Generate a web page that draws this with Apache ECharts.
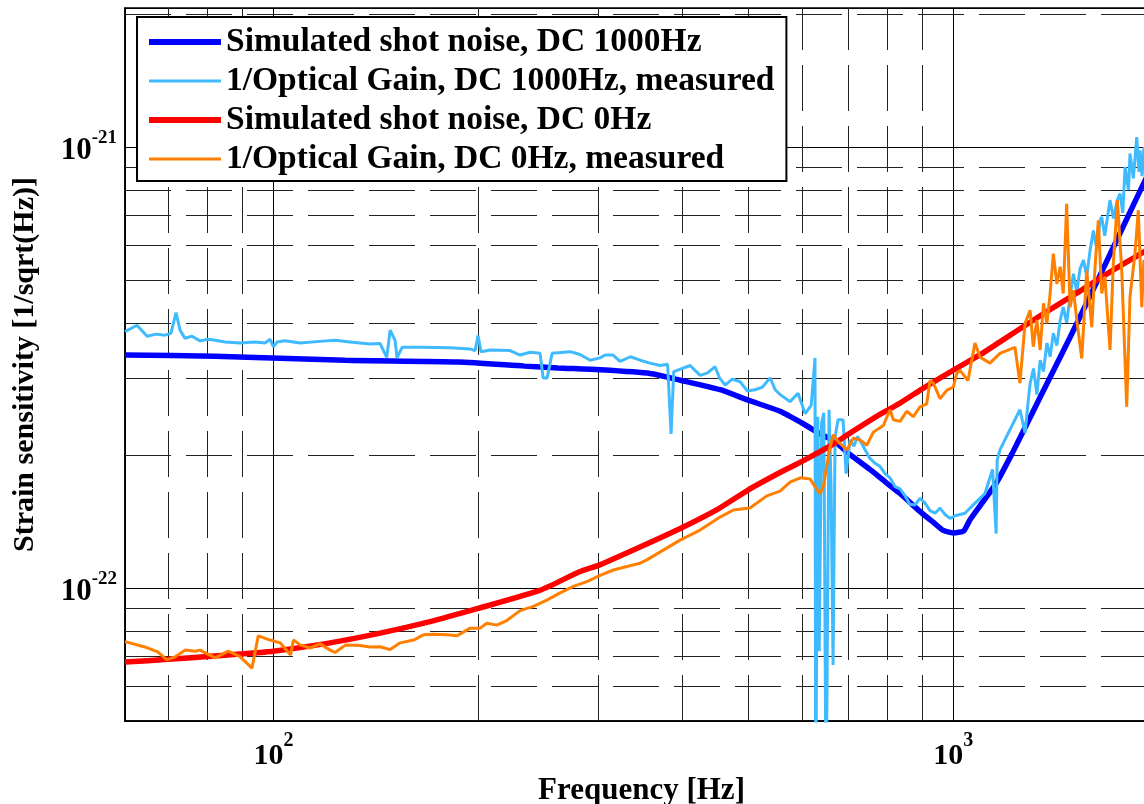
<!DOCTYPE html>
<html><head><meta charset="utf-8">
<script src="https://cdn.jsdelivr.net/npm/echarts@6/dist/echarts.min.js"></script>
<style>html,body{margin:0;padding:0;background:#fff}#c{width:1144px;height:804px}</style>
</head><body><div id="c"></div>
<script>
// strain values are stored in units of 1e-22 1/sqrt(Hz); frequencies in Hz
const UNIT_EXP = -22;

const xMinorGrid = [70, 80, 90, 200, 300, 400, 500, 600, 700, 800, 900, 2000];
const yMinorGrid = [0.6, 0.7, 0.8, 0.9, 2, 3, 4, 5, 6, 7, 8, 9, 20];

const seriesNames = [
  'Simulated shot noise, DC 1000Hz',
  '1/Optical Gain, DC 1000Hz, measured',
  'Simulated shot noise, DC 0Hz',
  '1/Optical Gain, DC 0Hz, measured'
];

// Simulated shot noise, DC 1000Hz
const fSim1000 = [60.5, 82, 127.5, 187, 234, 262, 302, 358, 398, 454, 499, 556, 599, 637, 670, 702, 754, 799, 835, 899, 935, 965, 1000, 1036, 1058, 1095, 1156, 1220, 1297, 1388, 1485, 1644, 1830, 2000];
const vSim1000 = [3.38, 3.36, 3.29, 3.26, 3.19, 3.16, 3.13, 3.07, 2.96, 2.82, 2.67, 2.52, 2.37, 2.24, 2.15, 2.02, 1.86, 1.73, 1.64, 1.48, 1.41, 1.355, 1.335, 1.35, 1.43, 1.54, 1.73, 2.02, 2.44, 3.01, 3.71, 5.13, 7.27, 9.69];

// 1/Optical Gain, DC 1000Hz, measured
const fMeas1000 = [60.5, 63.0, 65.2, 67.2, 69.3, 70.7, 71.9, 72.9, 74.1, 75.9,
  78.0, 80.2, 82.1, 84.9, 89.3, 94.0, 97.2, 98.9, 100, 101.3,
  104, 109.5, 117.1, 123.2, 129.7, 138.7, 143.5, 146.8, 148.5, 149.5,
  151, 152, 154.6, 164.4, 181.9, 194.7, 198, 200, 202, 208.3,
  222.9, 230.6, 238.5, 246.7, 249.3, 252.7, 257, 273.2, 282.5, 292.3,
  302.3, 307.6, 315.9, 323.5, 335, 346.2, 358, 370.5, 380, 384.5,
  388, 389.7, 410.1, 417, 424.2, 435, 446.3, 453, 461.7, 473,
  485.8, 498, 511.1, 524, 537.7, 547, 556.1, 575.3, 591.1, 605.3,
  618, 626, 627.5, 632, 635, 640, 645, 649.9, 656.5, 661,
  665.5, 670, 676.8, 688.4, 695.5, 704.9, 714, 723.4, 732, 741.6,
  754, 767.2, 780, 793.6, 807, 821, 835, 849.2, 863, 878.5,
  893, 908.7, 924, 940, 956, 972.3, 989, 1005.8, 1040, 1076,
  1113, 1142, 1156, 1160, 1171, 1210, 1253, 1275, 1290, 1297,
  1312, 1327, 1342, 1357, 1373, 1388, 1403, 1420, 1436, 1451,
  1468, 1485, 1502, 1519, 1536, 1554, 1571, 1589, 1607, 1625,
  1644, 1653, 1670, 1700, 1720, 1743, 1759, 1775, 1789, 1810,
  1819, 1840, 1861, 1875, 1882, 1895, 1907, 1950, 2000];
const vMeas1000 = [3.82, 3.95, 3.73, 3.77, 3.75, 3.79, 4.22, 3.85, 3.69, 3.73,
  3.64, 3.67, 3.65, 3.62, 3.60, 3.62, 3.60, 3.67, 3.53, 3.62,
  3.64, 3.60, 3.63, 3.65, 3.62, 3.58, 3.59, 3.34, 3.85, 3.89,
  3.65, 3.33, 3.52, 3.52, 3.51, 3.49, 3.46, 3.74, 3.44, 3.47,
  3.46, 3.38, 3.43, 3.41, 3.00, 3.00, 3.41, 3.44, 3.39, 3.29,
  3.33, 3.38, 3.38, 3.27, 3.35, 3.29, 3.24, 3.20, 3.22, 2.24,
  3.10, 3.12, 3.20, 3.12, 3.04, 3.08, 3.18, 3.00, 2.89, 2.98,
  2.94, 2.80, 2.82, 2.86, 3.00, 2.82, 2.75, 2.65, 2.77, 2.49,
  2.60, 3.33, 0.3, 2.45, 0.72, 2.37, 2.50, 0.3, 2.54, 1.70,
  0.67, 2.20, 2.41, 2.41, 1.82, 2.17, 2.10, 2.21, 2.14, 2.06,
  1.97, 1.92, 1.89, 1.82, 1.78, 1.70, 1.68, 1.62, 1.55, 1.545,
  1.60, 1.56, 1.50, 1.48, 1.52, 1.47, 1.44, 1.46, 1.48, 1.56,
  1.64, 1.86, 1.33, 1.95, 2.06, 2.28, 2.54, 2.25, 2.70, 2.91,
  3.15, 2.75, 3.29, 3.10, 3.60, 3.35, 3.79, 3.55, 4.05, 4.34,
  4.00, 4.60, 5.17, 4.70, 5.30, 5.55, 5.10, 5.84, 6.48, 5.90,
  6.83, 6.95, 6.30, 7.59, 6.90, 7.60, 7.85, 7.10, 9.02, 8.00,
  9.68, 8.50, 10.55, 8.80, 9.84, 8.60, 10.0, 9.6, 10.4];

// Simulated shot noise, DC 0Hz
const fSim0 = [60.5, 70, 80, 90, 100, 120, 143, 170, 200, 247, 282, 302, 350, 398, 450, 499, 556, 599, 665, 702, 780, 835, 899, 999, 1100, 1171, 1342, 1536, 1644, 1800, 1907, 2000];
const vSim0 = [0.68, 0.69, 0.70, 0.71, 0.72, 0.75, 0.79, 0.84, 0.90, 0.99, 1.09, 1.13, 1.25, 1.37, 1.51, 1.67, 1.83, 1.94, 2.12, 2.24, 2.48, 2.63, 2.83, 3.12, 3.40, 3.62, 4.15, 4.72, 5.05, 5.50, 5.79, 6.05];

// 1/Optical Gain, DC 0Hz, measured
const fMeas0 = [60.5, 64.7, 67.6, 69.7, 71.7, 74.2, 76.7, 78.0, 82.1, 85.8, 89.3, 93.0, 95.0, 98.9, 102.3, 106.0, 107.0, 109.5, 113.2, 117.1, 121.2, 123.2, 127.8, 134.1, 138.7, 143.5, 148.5, 153.6, 160.8, 166.2, 172.0, 179.9, 186.1, 194.7, 201.4, 206.0, 213.1, 220.4, 230.6, 241.2, 252.4, 264.0, 276.2, 289.1, 302.3, 316.2, 331.0, 346.2, 354.2, 396.4, 424.2, 453.9, 474.8, 502.3, 531.7, 556.1, 575.3, 595.3, 615.6, 626.1, 636.8, 643.9, 651.3, 658.7, 666.2, 673.9, 681.4, 697.1, 712.8, 729.1, 745.8, 762.8, 789.0, 807.0, 816.3, 835.0, 854.1, 873.4, 893.3, 913.9, 924.2, 934.7, 956.0, 977.9, 1000, 1011.6, 1023, 1051, 1076, 1095, 1132, 1171, 1232, 1253, 1275, 1297, 1311, 1327, 1342, 1357, 1373, 1388, 1403, 1420, 1436, 1451, 1468, 1485, 1502, 1519, 1545, 1571, 1598, 1616, 1634, 1653, 1671, 1700, 1719, 1743, 1769, 1799, 1819, 1850, 1871, 1893, 1907, 1950, 2000];
const vMeas0 = [0.757, 0.736, 0.717, 0.688, 0.699, 0.724, 0.720, 0.724, 0.695, 0.720, 0.700, 0.659, 0.780, 0.763, 0.752, 0.706, 0.763, 0.744, 0.732, 0.748, 0.724, 0.715, 0.744, 0.742, 0.736, 0.737, 0.726, 0.752, 0.763, 0.784, 0.787, 0.784, 0.780, 0.812, 0.812, 0.833, 0.825, 0.845, 0.890, 0.910, 0.940, 0.976, 1.010, 1.035, 1.070, 1.100, 1.120, 1.140, 1.160, 1.286, 1.355, 1.450, 1.505, 1.520, 1.620, 1.660, 1.740, 1.780, 1.770, 1.700, 1.640, 1.700, 1.890, 2.090, 2.230, 2.170, 2.130, 2.060, 2.190, 2.170, 2.110, 2.260, 2.340, 2.540, 2.410, 2.390, 2.520, 2.450, 2.580, 2.620, 2.960, 2.920, 2.690, 2.810, 2.860, 3.070, 3.120, 2.960, 3.600, 3.340, 3.240, 3.410, 3.520, 2.920, 3.990, 4.270, 3.530, 4.060, 3.470, 4.430, 3.990, 4.660, 5.740, 4.900, 5.360, 4.660, 7.450, 4.340, 4.740, 4.060, 3.320, 5.260, 3.910, 5.360, 6.830, 4.660, 5.090, 3.470, 5.450, 7.590, 5.260, 2.580, 4.580, 5.740, 7.200, 4.340, 5.550, 4.800, 6.000];

const FONT = 'Liberation Serif';
const toPairs = (fs, vs) => fs.map((f, i) => [f, vs[i]]);
const expOf = v => Math.round(Math.log10(v));
const isDecade = v => Math.abs(Math.log10(v) - Math.round(Math.log10(v))) < 1e-6;

const chart = echarts.init(document.getElementById('c'), null, {renderer: 'canvas'});
const gridDash = {color: '#222', width: 1, type: [46, 15]};
const thickIcon = 'path://M0,0L72,0L72,6L0,6Z';
const thinIcon = 'path://M0,0L72,0L72,3L0,3Z';

chart.setOption({
  animation: false,
  backgroundColor: '#fff',
  grid: {left: 125, top: 8, width: 1033, height: 713, containLabel: false, outerBoundsMode: 'none',
         show: true, borderColor: '#000', borderWidth: 1.5, backgroundColor: 'transparent'},
  xAxis: {
    type: 'log', logBase: 10, min: 60.5, max: 2000,
    name: 'Frequency [Hz]', nameLocation: 'middle', nameGap: 50,
    nameTextStyle: {fontFamily: FONT, fontWeight: 'bold', fontSize: 31, color: '#000'},
    axisLine: {show: true, lineStyle: {color: '#000', width: 1.5}},
    axisTick: {show: false},
    splitLine: {show: true, lineStyle: {color: '#000', width: 1, type: 'solid'}},
    axisLabel: {
      margin: 10, color: '#000',
      formatter: v => isDecade(v) ? '{b|10}{s|' + expOf(v) + '}' : '',
      rich: {
        b: {fontFamily: FONT, fontWeight: 'bold', fontSize: 30, color: '#000', verticalAlign: 'bottom', lineHeight: 40},
        s: {fontFamily: FONT, fontWeight: 'bold', fontSize: 20, color: '#000', verticalAlign: 'top', lineHeight: 40}
      }
    }
  },
  yAxis: {
    type: 'log', logBase: 10, min: 0.5, max: 20.7,
    name: 'Strain sensitivity [1/sqrt(Hz)]', nameLocation: 'middle', nameGap: 85, nameRotate: 90,
    nameTextStyle: {fontFamily: FONT, fontWeight: 'bold', fontSize: 30, color: '#000'},
    axisLine: {show: true, lineStyle: {color: '#000', width: 1.5}},
    axisTick: {show: false},
    splitLine: {show: true, lineStyle: {color: '#000', width: 1, type: 'solid'}},
    axisLabel: {
      margin: 8, color: '#000',
      formatter: v => isDecade(v) ? '{b|10}{s|' + (expOf(v) + UNIT_EXP) + '}' : '',
      rich: {
        b: {fontFamily: FONT, fontWeight: 'bold', fontSize: 31, color: '#000', verticalAlign: 'bottom', lineHeight: 38},
        s: {fontFamily: FONT, fontWeight: 'bold', fontSize: 19, color: '#000', verticalAlign: 'top', lineHeight: 38}
      }
    }
  },
  legend: {
    orient: 'vertical', left: 137, top: 17,
    itemWidth: 72, itemHeight: 14, itemGap: 5, symbolKeepAspect: true,
    padding: [8, 12, 5, 12],
    borderColor: '#000', borderWidth: 2, backgroundColor: '#fff',
    textStyle: {fontFamily: FONT, fontWeight: 'bold', fontSize: 33.5, color: '#000', lineHeight: 32},
    data: [
      {name: seriesNames[0], icon: thickIcon},
      {name: seriesNames[1], icon: thinIcon},
      {name: seriesNames[2], icon: thickIcon},
      {name: seriesNames[3], icon: thinIcon}
    ],
    z: 10
  },
  series: [
    {type: 'line', name: seriesNames[0], data: toPairs(fSim1000, vSim1000), symbol: 'none', smooth: 0.2, z: 3,
     lineStyle: {color: '#0000FF', width: 5.5}, itemStyle: {color: '#0000FF'},
     markLine: {
        silent: true, symbol: 'none', z: 1, animation: false,
        label: {show: false},
        lineStyle: gridDash,
        data: xMinorGrid.map(x => ({xAxis: x})).concat(yMinorGrid.map(y => ({yAxis: y})))
     }},
    {type: 'line', name: seriesNames[1], data: toPairs(fMeas1000, vMeas1000), symbol: 'none', z: 3,
     lineStyle: {color: '#40BAFF', width: 3}, itemStyle: {color: '#40BAFF'}},
    {type: 'line', name: seriesNames[2], data: toPairs(fSim0, vSim0), symbol: 'none', smooth: 0.2, z: 3,
     lineStyle: {color: '#FF0000', width: 5.5}, itemStyle: {color: '#FF0000'}},
    {type: 'line', name: seriesNames[3], data: toPairs(fMeas0, vMeas0), symbol: 'none', z: 3,
     lineStyle: {color: '#FF8000', width: 3}, itemStyle: {color: '#FF8000'}}
  ]
});
</script>
</body></html>
